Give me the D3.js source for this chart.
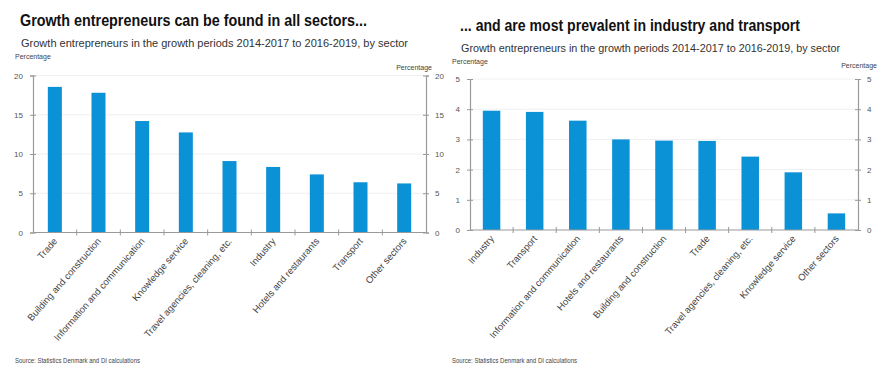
<!DOCTYPE html>
<html>
<head>
<meta charset="utf-8">
<script src="https://cdn.jsdelivr.net/npm/d3@7"></script>
<style>
  body { margin: 0; background: #fff; }
  svg text { font-family: "Liberation Sans", Arial, sans-serif; }
</style>
</head>
<body>
<div id="chart"></div>
<script>
var width = 885, height = 369;

// left panel data
var leftSectors = ["Trade", "Building and construction", "Information and communication", "Knowledge service",
    "Travel agencies, cleaning, etc.", "Industry", "Hotels and restaurants", "Transport", "Other sectors"];
var leftValues = [18.55, 17.8, 14.2, 12.75, 9.1, 8.35, 7.4, 6.4, 6.25];
var leftTicks = [0, 5, 10, 15, 20];

// right panel data
var rightSectors = ["Industry", "Transport", "Information and communication", "Hotels and restaurants",
    "Building and construction", "Trade", "Travel agencies, cleaning, etc.", "Knowledge service", "Other sectors"];
var rightValues = [3.95, 3.91, 3.62, 3.0, 2.96, 2.95, 2.43, 1.91, 0.55];
var rightTicks = [0, 1, 2, 3, 4, 5];

var subtitle = "Growth entrepreneurs in the growth periods 2014-2017 to 2016-2019, by sector";
var source = "Source: Statistics Denmark and DI calculations";

var svg = d3.select("#chart").append("svg").attr("width", width).attr("height", height);

function drawPanel(p) {
    var g = svg.append("g");

    // narrow look: squeeze text to the widths in the picture
    g.append("text").attr("x", p.titleX).attr("y", p.titleY)
        .attr("textLength", p.titleW).attr("lengthAdjust", "spacingAndGlyphs")
        .style("font-size", "16px").style("font-weight", "bold").attr("fill", "#111")
        .text(p.title);
    g.append("text").attr("x", p.titleX + 1).attr("y", p.titleY + 21)
        .attr("textLength", p.subW).attr("lengthAdjust", "spacingAndGlyphs")
        .style("font-size", "11.5px").attr("fill", "#333")
        .text(subtitle);
    g.append("text").attr("x", p.left - 18).attr("y", p.unitLeftY)
        .style("font-size", "7px").attr("fill", "#444").text("Percentage");
    g.append("text").attr("x", p.unitRightX).attr("y", p.unitRightY)
        .attr("text-anchor", "end")
        .style("font-size", "7px").attr("fill", "#444").text("Percentage");

    var x = d3.scaleBand().domain(p.sectors).range([p.left, p.right]).paddingInner(0).paddingOuter(0);
    var y = d3.scaleLinear().domain([0, p.max]).range([p.bottom, p.top]);

    // grid
    g.append("g").selectAll("line").data(p.ticks.slice(1)).enter().append("line")
        .attr("x1", p.left).attr("x2", p.right)
        .attr("y1", d => y(d)).attr("y2", d => y(d))
        .attr("stroke", "#f0f0f0").attr("stroke-width", 1);

    var yl = g.append("g").attr("transform", "translate(" + p.left + ",0)")
        .call(d3.axisLeft(y).tickValues(p.ticks).tickFormat(d3.format("d")).tickSize(3).tickPadding(7));
    var yr = g.append("g").attr("transform", "translate(" + p.right + ",0)")
        .call(d3.axisRight(y).tickValues(p.ticks).tickFormat(d3.format("d")).tickSize(3).tickPadding(6));
    [yl, yr].forEach(a => {
        a.select(".domain").attr("stroke", "#999").attr("stroke-width", 1.2);
        a.selectAll(".tick line").attr("stroke", "#999").attr("x1", -3).attr("x2", 3);
        a.selectAll(".tick text").attr("fill", "#555").style("font-size", "8px")
            .style("font-family", "'Liberation Sans', sans-serif");
    });

    g.append("g").selectAll("rect").data(p.values).enter().append("rect")
        .attr("x", (d, i) => x(p.sectors[i]) + (x.bandwidth() - p.barW) / 2)
        .attr("y", d => y(d))
        .attr("width", p.barW)
        .attr("height", d => p.bottom - y(d))
        .attr("fill", "#0a91d6");

    // x axis with ticks between categories
    var xa = g.append("g").attr("transform", "translate(0," + p.bottom + ")");
    xa.append("line").attr("x1", p.left).attr("x2", p.right).attr("stroke", "#999").attr("stroke-width", 1.2);
    xa.selectAll("line.sep").data(p.sectors.slice(1)).enter().append("line").attr("class", "sep")
        .attr("x1", d => x(d)).attr("x2", d => x(d)).attr("y1", -3).attr("y2", 3)
        .attr("stroke", "#999");
    xa.selectAll("text").data(p.sectors).enter().append("text")
        .attr("transform", d => "translate(" + (x(d) + x.bandwidth() / 2 + 3) + ",9) rotate(-49)")
        .attr("text-anchor", "end")
        .style("font-size", "9.5px").attr("fill", "#444")
        .text(d => d);

    g.append("text").attr("x", p.left - 18).attr("y", 363)
        .attr("textLength", 125).attr("lengthAdjust", "spacingAndGlyphs")
        .style("font-size", "7px").attr("fill", "#444").text(source);
}

drawPanel({
    title: "Growth entrepreneurs can be found in all sectors...",
    titleX: 20, titleY: 26, titleW: 347, subW: 387, unitLeftY: 59, unitRightX: 432, unitRightY: 70,
    sectors: leftSectors, values: leftValues, ticks: leftTicks, max: 20,
    left: 33, right: 426, top: 75.5, bottom: 232.5, barW: 14
});

drawPanel({
    title: "... and are most prevalent in industry and transport",
    titleX: 460, titleY: 31, titleW: 340, subW: 379, unitLeftY: 64, unitRightX: 877, unitRightY: 68,
    sectors: rightSectors, values: rightValues, ticks: rightTicks, max: 5,
    left: 470, right: 858, top: 79, bottom: 230, barW: 17.5
});
</script>
</body>
</html>
